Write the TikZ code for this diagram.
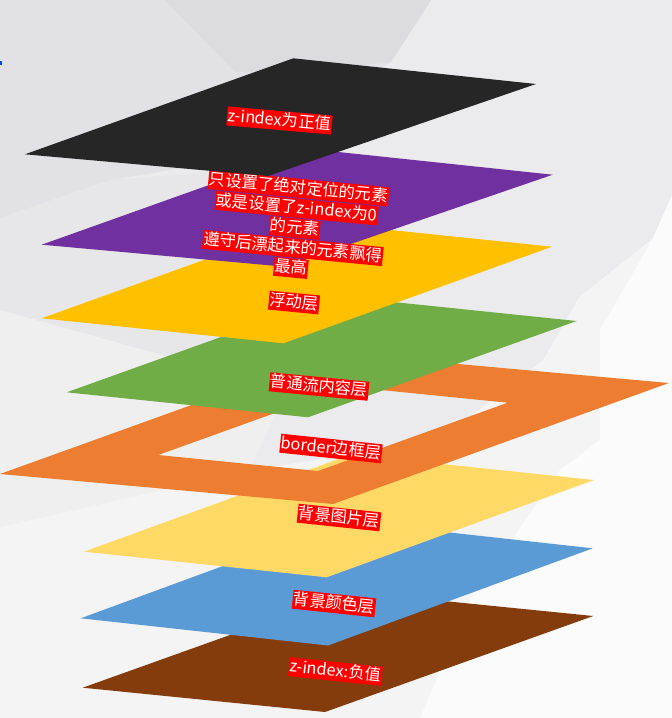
\documentclass[tikz,border=0pt]{standalone}
\usepackage{fontspec}
\setmainfont{Noto Sans CJK SC}
\usepackage{xcolor}
\definecolor{cBlack}{HTML}{262626}
\definecolor{cPurple}{HTML}{7030A0}
\definecolor{cGold}{HTML}{FFC000}
\definecolor{cGreen}{HTML}{70AD47}
\definecolor{cOrange}{HTML}{ED7D31}
\definecolor{cLight}{HTML}{FFD966}
\definecolor{cBlue}{HTML}{5B9BD5}
\definecolor{cBrown}{HTML}{843C0C}
\definecolor{lblRed}{HTML}{FF0000}
\definecolor{bgA}{HTML}{F4F4F5}
\definecolor{bgB}{HTML}{EBEBED}
\definecolor{bgC}{HTML}{E2E1E5}
\definecolor{bgD}{HTML}{DCDBE0}
\definecolor{bgE}{HTML}{E7E7E9}
\definecolor{bgF}{HTML}{EFEFF0}
\definecolor{bgG}{HTML}{FBFBFB}
\newcommand{\redlbl}[1]{{\setlength{\fboxsep}{0.8pt}\colorbox{lblRed}{\rule[-3.6pt]{0pt}{17.4pt}\textcolor{white}{#1}}}}
\tikzset{
  layerlbl/.style={inner sep=0pt, align=center, font=\fontsize{16.3}{20}\selectfont},
}
\begin{document}
\begin{tikzpicture}[x=1pt,y=-1pt]
\useasboundingbox (0,0) rectangle (672,718);
% background
\fill[bgA] (0,0) rectangle (672,718);
\fill[bgB] (0,0) -- (672,0) -- (672,195) -- (653,238) -- (579,297) -- (543,360) -- (440,440) -- (250,470) -- (0,500) -- cycle;
\fill[bgC] (0,0) -- (431,0) -- (391,62) -- (300,110) -- (200,165) -- (110,180) -- (0,218) -- cycle;
\fill[bgD] (165,0) -- (431,0) -- (391,62) -- (330,68) -- (235,72) -- cycle;
\fill[bgE] (0,218) -- (110,180) -- (230,170) -- (300,300) -- (180,360) -- (0,310) -- cycle;
\fill[bgF] (0,310) -- (180,360) -- (300,360) -- (250,470) -- (0,527) -- cycle;
\fill[bgG] (672,195) -- (672,718) -- (420,718) -- (470,600) -- (560,470) -- (600,440) -- (600,330) -- (653,238) -- cycle;
\fill[blue!70!cyan] (0,61) rectangle (1.5,65);
% brown layer
\fill[cBrown] (82.7,687.7) -- (351,591.7) -- (593.3,616) -- (325,712) -- cycle;
\node[layerlbl, rotate=-6] (lneg) at (335.5,671.5) {\redlbl{z-index:负值}};
% blue layer
\fill[cBlue] (80.7,618.3) -- (345.4,521) -- (592.7,548.3) -- (328,645.5) -- cycle;
\node[layerlbl, rotate=-6] (lbgc) at (334,603.5) {\redlbl{背景颜色层}};
% light yellow layer
\fill[cLight] (84,551.7) -- (351.3,454.4) -- (594,480) -- (326.7,577.3) -- cycle;
\node[layerlbl, rotate=-6] (lbgi) at (339,517.5) {\redlbl{背景图片层}};
% orange border layer
\fill[cOrange, even odd rule] (0,474) -- (336,353) -- (669,383) -- (333,504) -- cycle
  (158.3,455) -- (348,386.7) -- (507.7,402.7) -- (318,471) -- cycle;
\node[layerlbl, rotate=-6] (lbor) at (331,448.5) {\redlbl{border边框层}};
% green layer
\fill[cGreen] (66.7,392.3) -- (335.4,296) -- (576.7,321) -- (308,417.3) -- cycle;
\node[layerlbl, rotate=-5.5] (lflow) at (319,386.5) {\redlbl{普通流内容层}};
% gold layer
\fill[cGold] (41.7,318.3) -- (310.4,221.7) -- (552,246.7) -- (283.3,343.3) -- cycle;
\node[layerlbl, rotate=-5.5] (lfloat) at (294,302.5) {\redlbl{浮动层}};
% purple layer
\fill[cPurple] (41.7,244.7) -- (310,149) -- (552.7,174.7) -- (284.7,266.7) -- cycle;
\node[layerlbl, rotate=-5.5] (lzero) at (294.7,228) {\redlbl{只设置了绝对定位的元素}\\\redlbl{或是设置了z-index为0}\\\redlbl{的元素}\\\redlbl{遵守后漂起来的元素飘得}\\\redlbl{最高}};
% black layer
\fill[cBlack] (25,154.3) -- (293.3,58.3) -- (536,84) -- (268,176) -- cycle;
\node[layerlbl, rotate=-5] (lpos) at (279.5,120.5) {\redlbl{z-index为正值}};
\end{tikzpicture}
\end{document}
